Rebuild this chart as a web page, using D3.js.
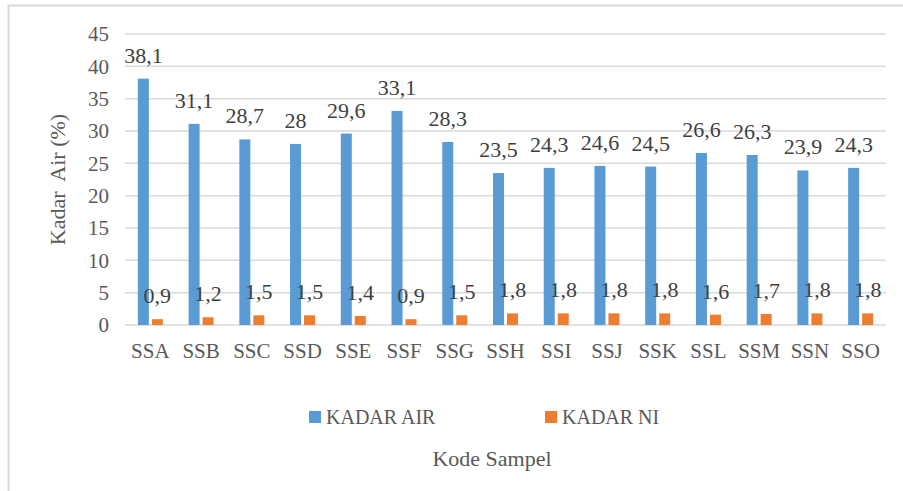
<!DOCTYPE html>
<html>
<head>
<meta charset="utf-8">
<script src="https://cdn.jsdelivr.net/npm/d3@7"></script>
<style>
  svg text { font-family: 'Times New Roman' !important; }
</style>
</head>
<body style="margin:0">
<script>
// chart data
var categories = ["SSA", "SSB", "SSC", "SSD", "SSE", "SSF", "SSG", "SSH", "SSI", "SSJ", "SSK", "SSL", "SSM", "SSN", "SSO"];
var kadarAir = [38.1, 31.1, 28.7, 28, 29.6, 33.1, 28.3, 23.5, 24.3, 24.6, 24.5, 26.6, 26.3, 23.9, 24.3];
var kadarNi = [0.9, 1.2, 1.5, 1.5, 1.4, 0.9, 1.5, 1.8, 1.8, 1.8, 1.8, 1.6, 1.7, 1.8, 1.8];
var seriesNames = ["KADAR AIR", "KADAR NI"];
var yTicks = [0, 5, 10, 15, 20, 25, 30, 35, 40, 45];

var FONT = "'Times New Roman'";
var colors = ["#5B9BD5", "#ED7D31"];
var W = 903, H = 491;
var margin = { top: 34, right: 17, bottom: 166, left: 125 },
    width = W - margin.left - margin.right,
    height = H - margin.top - margin.bottom;

var svg = d3.select("body")
    .append("svg")
    .attr("width", W)
    .attr("height", H);

// outer border (only left and top visible)
svg.append("path")
    .attr("d", "M8.5," + H + "V5.5H" + W)
    .attr("fill", "none")
    .attr("stroke", "#d9d9d9")
    .attr("stroke-width", 2);

var g = svg.append("g")
    .attr("transform", "translate(" + margin.left + "," + margin.top + ")");

var x = d3.scaleBand()
    .domain(categories)
    .range([0, width]);

var y = d3.scaleLinear()
    .domain([0, 45])
    .range([height, 0]);

// gridlines
g.selectAll(".grid")
    .data(yTicks)
    .enter()
    .append("line")
    .attr("x1", 0)
    .attr("x2", width)
    .attr("y1", function (d) { return y(d); })
    .attr("y2", function (d) { return y(d); })
    .attr("stroke", "#d9d9d9")
    .attr("stroke-width", 1.5);

// y axis
var yAxis = g.append("g")
    .call(d3.axisLeft(y).tickValues(yTicks).tickSize(0).tickPadding(16));
yAxis.select(".domain").remove();
yAxis.selectAll("text")
    .attr("fill", "#595959")
    .style("font-family", FONT)
    .style("font-size", "21px");

// x axis
var xAxis = g.append("g")
    .attr("transform", "translate(0," + height + ")")
    .call(d3.axisBottom(x).tickSize(0).tickPadding(18));
xAxis.select(".domain").remove();
xAxis.selectAll("text")
    .attr("fill", "#595959")
    .style("font-family", FONT)
    .style("font-size", "21px");

var barW = 11, gap = 3;
var series = [kadarAir, kadarNi];

series.forEach(function (vals, si) {
    var offset = si === 0 ? -gap / 2 - barW : gap / 2;
    var data = categories.map(function (c, i) { return { c: c, v: vals[i] }; });

    g.selectAll(".bar" + si)
        .data(data)
        .enter()
        .append("rect")
        .attr("x", function (d) { return x(d.c) + x.bandwidth() / 2 + offset; })
        .attr("y", function (d) { return y(d.v); })
        .attr("width", barW)
        .attr("height", function (d) { return height - y(d.v); })
        .attr("fill", colors[si]);

    g.selectAll(".lbl" + si)
        .data(data)
        .enter()
        .append("text")
        .attr("x", function (d) { return x(d.c) + x.bandwidth() / 2 + offset + barW / 2; })
        .attr("y", function (d) { return y(d.v) - 16; })
        .attr("text-anchor", "middle")
        .attr("fill", "#404040")
        .style("font-family", FONT)
        .style("font-size", "22px")
        .text(function (d) { return String(d.v).replace(".", ","); });
});

// y axis title
svg.append("text")
    .attr("transform", "translate(65," + (margin.top + height / 2) + ") rotate(-90)")
    .attr("text-anchor", "middle")
    .attr("fill", "#595959")
    .style("font-family", FONT)
    .style("font-size", "22px")
    .style("white-space", "pre")
    .text("Kadar  Air (%)");

// legend
var legendX = [309, 545];
seriesNames.forEach(function (name, i) {
    svg.append("rect")
        .attr("x", legendX[i])
        .attr("y", 411)
        .attr("width", 12)
        .attr("height", 12)
        .attr("fill", colors[i]);
    svg.append("text")
        .attr("x", legendX[i] + 17)
        .attr("y", 424)
        .attr("fill", "#595959")
        .style("font-family", FONT)
        .style("font-size", "20px")
        .text(name);
});

// x axis title
svg.append("text")
    .attr("x", 492)
    .attr("y", 466)
    .attr("text-anchor", "middle")
    .attr("fill", "#595959")
    .style("font-family", FONT)
    .style("font-size", "22px")
    .text("Kode Sampel");
</script>
</body>
</html>
